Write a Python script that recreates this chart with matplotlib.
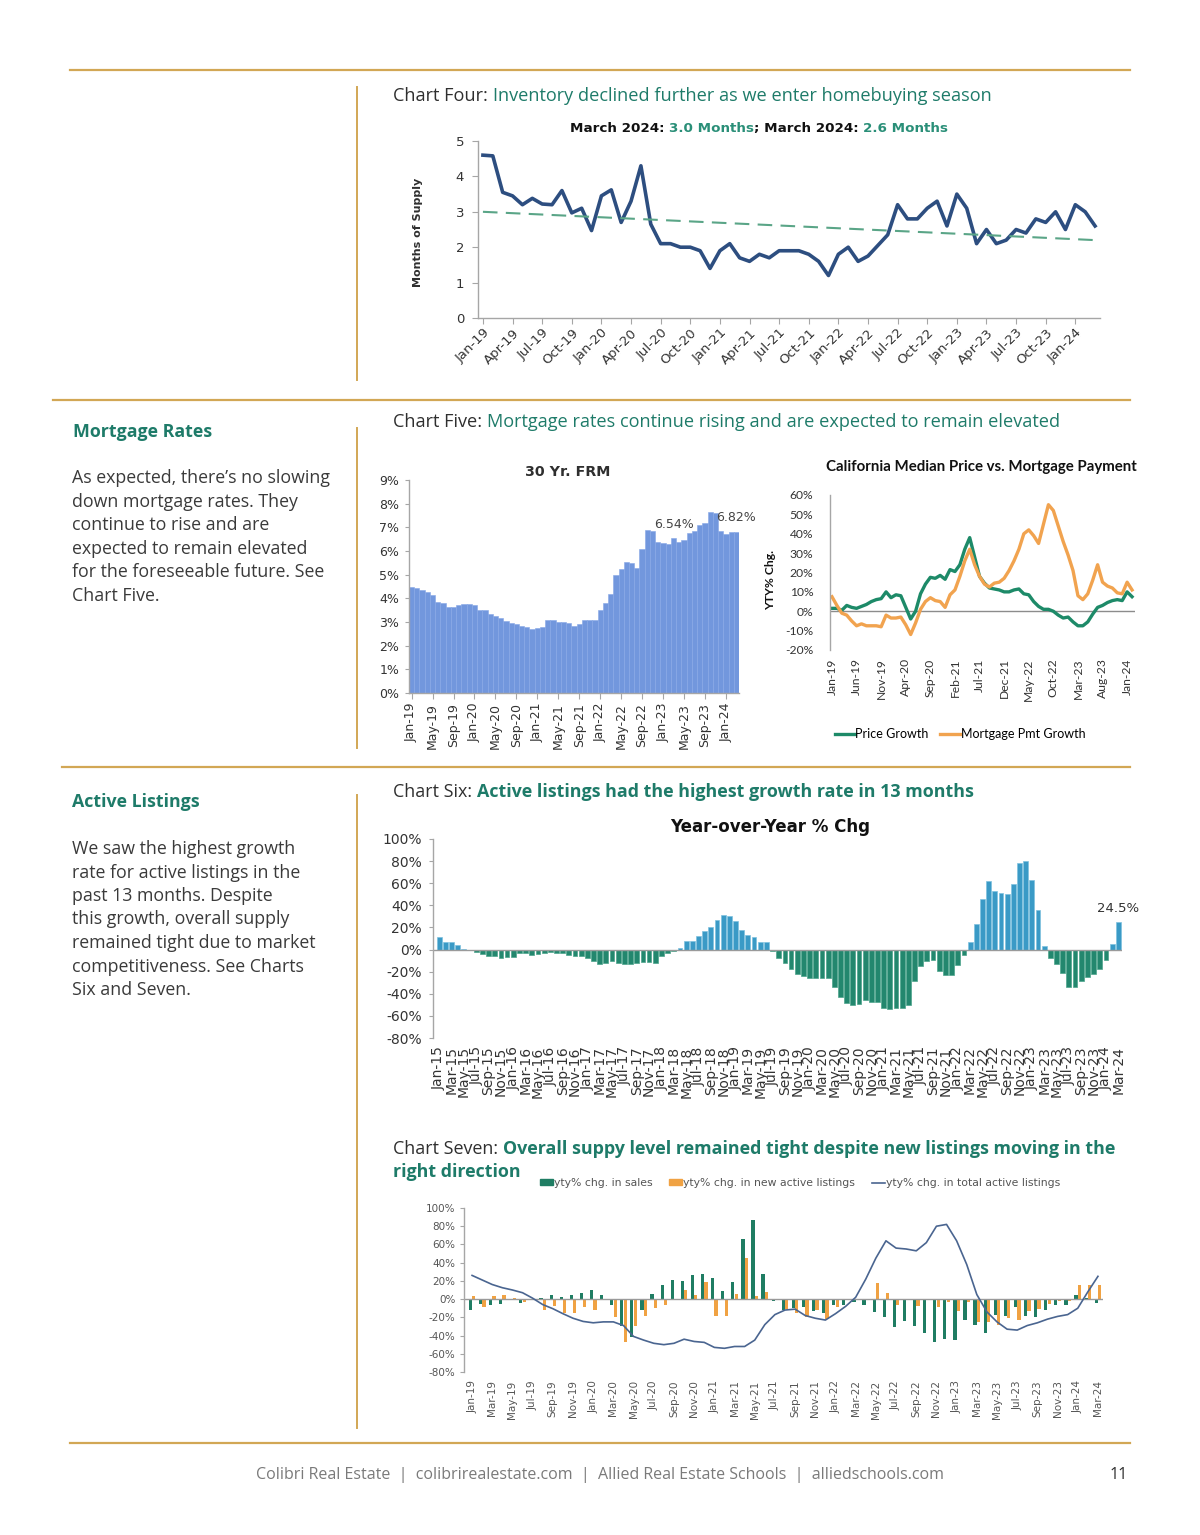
import numpy as np
import pandas as pd
import matplotlib
matplotlib.use('Agg')
import matplotlib.pyplot as plt
from matplotlib.lines import Line2D
from matplotlib.patches import Patch

W, H = 1200, 1535

# ---------------- data ----------------
months_19_24 = pd.date_range('2019-01-01', '2024-03-01', freq='MS').strftime('%b-%y').tolist()
months_15_24 = pd.date_range('2015-01-01', '2024-03-01', freq='MS').strftime('%b-%y').tolist()

# Chart Four: months of supply (Jan-19 .. Mar-24)
supply = [4.6, 4.58, 3.55, 3.45, 3.2, 3.38, 3.22, 3.2, 3.6, 2.97, 3.1, 2.47,
          3.45, 3.62, 2.7, 3.3, 4.3, 2.65, 2.1, 2.1, 2.0, 2.0, 1.9, 1.4,
          1.9, 2.1, 1.7, 1.6, 1.8, 1.7, 1.9, 1.9, 1.9, 1.8, 1.6, 1.2,
          1.8, 2.0, 1.6, 1.75, 2.05, 2.35, 3.2, 2.8, 2.8, 3.1, 3.3, 2.6,
          3.5, 3.1, 2.1, 2.5, 2.1, 2.2, 2.5, 2.4, 2.8, 2.7, 3.0, 2.5,
          3.2, 3.0, 2.6]
supply_trend = [3.0, 2.2]

# Chart Five (left): 30 Yr FRM (Jan-19 .. Mar-24)
frm = [4.5, 4.45, 4.35, 4.25, 4.15, 3.85, 3.8, 3.65, 3.65, 3.7, 3.75, 3.75,
       3.7, 3.5, 3.5, 3.35, 3.25, 3.15, 3.05, 2.95, 2.9, 2.85, 2.8, 2.7,
       2.75, 2.8, 3.1, 3.1, 3.0, 3.0, 2.95, 2.85, 2.9, 3.1, 3.1, 3.1,
       3.5, 3.8, 4.2, 5.0, 5.25, 5.55, 5.5, 5.3, 6.1, 6.9, 6.85, 6.4,
       6.35, 6.3, 6.54, 6.4, 6.45, 6.75, 6.85, 7.1, 7.2, 7.65, 7.6, 6.85,
       6.7, 6.8, 6.82]
frm_labelled = [50, 62]

# Chart Five (right): price vs mortgage payment growth (Jan-19 .. Feb-24)
price_growth = [1.5, 1.5, 0.5, 3, 2, 1.5, 2.5, 3.5, 5, 6,
                6.5, 10, 7, 8.5, 8, 2, -4, 0, 9, 14,
                17.5, 17, 18.5, 16.5, 21.5, 20.5, 24, 32, 38, 28,
                18, 14.5, 12, 11.5, 11, 10, 10, 11, 11.5, 9,
                8.5, 5, 2.5, 1, 1, 0, -2, -3.5, -3, -5.5,
                -7.5, -7.5, -5.5, -1.5, 2, 3, 4.5, 5.5, 6, 5.5,
                10, 7.5]
mortgage_growth = [7.5, 3, -1, -2, -5, -7.5, -6.5, -7.5, -7.5, -7.5,
                   -8, -2, -3.5, -3.5, -3, -7, -12, -6, 1, 5,
                   7, 5.5, 5, 2, 8.5, 11, 18, 26, 32, 24,
                   18, 14, 12.5, 14.5, 15, 17, 21, 26, 32, 40,
                   42, 39, 35, 45, 55, 52, 44, 36, 29, 21,
                   8, 6, 9, 16, 24, 15, 13, 12, 9.5, 9,
                   15, 11]

# Chart Six: active listings YoY % (Jan-15 .. Mar-24)
active_yoy = [11, 7, 6.5, 4, 0.5, 0, -2, -4, -5.5, -5.5, -7.5, -7,
              -6.5, -3.5, -3, -4.5, -4, -3, -2, -3.5, -3.5, -4.5, -5.5, -5.5,
              -7.5, -10, -13.5, -12, -10, -12, -13, -13, -12, -11.5, -11.5, -12,
              -6, -3, -1, 1, 8, 8, 12, 17, 20, 27, 31, 30.5,
              26, 18, 13, 11, 7, 7, -1, -8, -12, -18, -22, -24,
              -26, -26, -26, -26, -34, -43, -48, -50, -49, -46, -47, -47,
              -53, -54, -53, -53, -50, -28, -15, -10, -9, -19, -23, -23,
              -14, -5, 7, 23, 46, 62, 53, 51, 50, 59, 78, 80,
              63, 36, 3, -8, -13, -21, -34, -34, -28, -25, -22, -18,
              -9, 5, 24.5]

# Chart Seven (Jan-19 .. Mar-24)
sales_yoy = [-12, -5, -6, -5, 0, -4, 0, 1, 5, 2, 5, 7, 10, 5, -6, -29, -42, -12, 6, 15,
             21, 20, 26, 28, 23, 9, 19, 66, 87, 28, -2,
             -12, -10, -9, -13, -15, -7, -6, -3, -6, -14, -20, -31, -24, -30, -37, -47,
             -44, -45, -23, -28, -37, -17, -19, -9, -19, -20, -12, -6, -6, 5, 1, -4]
new_listings_yoy = [3, -9, 3, 4, 1, -3, 0, -12, -8, -15, -15, -9, -12, 0, -20, -47, -30, -19, -10, -7,
                    0, 10, 4, 19, -19, -18, 6, 45, 3, 8, 0,
                    -11, -15, -20, -12, -22, -9, 0, 0, 0, 18, 7, -7, 0, -8, 0, -9,
                    -3, -13, -3, -25, -25, -28, -21, -23, -13, -11, -5, -2, -2, 15, 16, 15]
total_active_yoy = [26, 21, 16, 12.5, 10, 7, 1, -6, -10.5, -16, -21, -24.5, -26, -25, -25, -29,
                    -41, -45, -48.5, -50, -48.5, -44, -46.5, -47.5, -53, -54, -52, -52, -45, -28, -17,
                    -12, -11, -18, -21, -23, -16, -8, 2, 22, 45, 64, 56, 55, 53, 62, 80,
                    82, 64, 38, 5, -14, -25, -33, -34, -29, -26, -22, -19, -17, -10, 8, 25]

# ---------------- style ----------------
GOLD = '#d2a755'
TEAL = '#1e7b69'
DARK = '#2f2f2f'
BODY = '#3a3a3a'

fig = plt.figure(figsize=(W / 100, H / 100), dpi=100)
fig.patch.set_facecolor('white')


def ax_rect(left, top, right, bottom):
    return fig.add_axes([left / W, 1 - bottom / H, (right - left) / W, (bottom - top) / H])


def hline(x1, x2, y, lw=1.6):
    fig.add_artist(Line2D([x1 / W, x2 / W], [1 - y / H, 1 - y / H], color=GOLD, lw=lw,
                          transform=fig.transFigure))


def vline(x, y1, y2, lw=1.4):
    fig.add_artist(Line2D([x / W, x / W], [1 - y1 / H, 1 - y2 / H], color=GOLD, lw=lw,
                          transform=fig.transFigure))


renderer = fig.canvas.get_renderer()


def text_width(s, **kw):
    t = fig.text(0, 0, s + '|', **kw)
    t2 = fig.text(0, 0, '|', **kw)
    w = t.get_window_extent(renderer).width - t2.get_window_extent(renderer).width
    t.remove()
    t2.remove()
    return w


def rich(x, y, parts, size, family='Open Sans', ha='left'):
    widths = [text_width(s, fontsize=size, fontweight=wt, family=family) for s, c, wt in parts]
    if ha == 'center':
        x -= sum(widths) / 2
    for (s, c, wt), w in zip(parts, widths):
        fig.text(x / W, 1 - y / H, s, fontsize=size, fontweight=wt, family=family,
                 color=c, va='baseline', ha='left')
        x += w


def ftext(x, y, s, **kw):
    return fig.text(x / W, 1 - y / H, s, **kw)


# ---------------- page furniture ----------------
hline(70, 1130, 70)
hline(53, 1130, 400)
hline(62, 1130, 767)
hline(70, 1130, 1443)
vline(357, 87, 380)
vline(357, 428, 748)
vline(357, 795, 1428)

TS = 13.1
TSB = 12.9
rich(393, 101, [('Chart Four: ', DARK, 'normal'),
                ('Inventory declined further as we enter homebuying season', TEAL, 'normal')], TS)
rich(393, 427, [('Chart Five: ', DARK, 'normal'),
                ('Mortgage rates continue rising and are expected to remain elevated', TEAL, 'normal')], TS)
rich(393, 797, [('Chart Six: ', DARK, 'normal'),
                ('Active listings had the highest growth rate in 13 months', TEAL, 'bold')], TSB)
rich(393, 1154, [('Chart Seven: ', DARK, 'normal'),
                 ('Overall suppy level remained tight despite new listings moving in the', TEAL, 'bold')], TSB)
rich(393, 1177, [('right direction', TEAL, 'bold')], TSB)

ftext(73, 437, 'Mortgage Rates', fontsize=12.8, fontweight='bold', family='Open Sans', color=TEAL, va='baseline')
para1 = ["As expected, there\u2019s no slowing", "down mortgage rates. They", "continue to rise and are",
         "expected to remain elevated", "for the foreseeable future. See", "Chart Five."]
for i, line in enumerate(para1):
    ftext(72, 483 + i * 23.6, line, fontsize=12.8, family='Open Sans', color=BODY, va='baseline')

ftext(72, 807, 'Active Listings', fontsize=12.8, fontweight='bold', family='Open Sans', color=TEAL, va='baseline')
para2 = ["We saw the highest growth", "rate for active listings in the", "past 13 months. Despite",
         "this growth, overall supply", "remained tight due to market", "competitiveness. See Charts",
         "Six and Seven."]
for i, line in enumerate(para2):
    ftext(72, 854 + i * 23.5, line, fontsize=12.8, family='Open Sans', color=BODY, va='baseline')

ftext(600, 1479, 'Colibri Real Estate  |  colibrirealestate.com  |  Allied Real Estate Schools  |  alliedschools.com',
      fontsize=11.5, family='Open Sans', color='#7a7a7a', ha='center', va='baseline')
ftext(1119, 1479, '11', fontsize=11.5, family='Open Sans', color=DARK, ha='center', va='baseline')

AXC = '#a6a6a6'


def base_axes(ax, left=True, bottom=True):
    for s in ['top', 'right']:
        ax.spines[s].set_visible(False)
    ax.spines['left'].set_visible(left)
    ax.spines['bottom'].set_visible(bottom)
    for s in ['left', 'bottom']:
        ax.spines[s].set_color(AXC)
        ax.spines[s].set_linewidth(1.0)
    ax.tick_params(colors=AXC, labelcolor='#333333')
    ax.set_facecolor('none')


# ---------------- Chart Four ----------------
ax4 = ax_rect(478, 141, 1100, 318)
base_axes(ax4)
x4 = np.arange(len(supply))
ax4.plot(x4, supply, color='#2d4e80', lw=2.6, solid_joinstyle='round')
ax4.plot([x4[0], x4[-1]], supply_trend, color='#5aa587', lw=1.5, dashes=(7, 4))
ax4.set_xlim(-0.5, 62.5)
ax4.set_ylim(0, 5)
ax4.set_yticks(range(0, 6))
ax4.tick_params(axis='y', labelsize=9.5, length=4, pad=6)
ax4.set_xticks(x4[::3])
ax4.set_xticklabels(months_19_24[::3], rotation=45, ha='right', rotation_mode='anchor', fontsize=9.5)
ax4.tick_params(axis='x', length=4, pad=2)
for lab in ax4.get_xticklabels() + ax4.get_yticklabels():
    lab.set_family('DejaVu Sans')
ftext(418, 232, 'Months of Supply', rotation=90, fontsize=8, fontweight='bold', family='DejaVu Sans',
      color=DARK, ha='center', va='center')
rich(759, 132, [('March 2024: ', '#111111', 'bold'), ('3.0 Months', '#2a8f78', 'bold'),
                ('; March 2024: ', '#111111', 'bold'), ('2.6 Months', '#2a8f78', 'bold')],
     9.7, family='DejaVu Sans', ha='center')

# ---------------- Chart Five left ----------------
ax5 = ax_rect(409, 480, 739, 693)
base_axes(ax5)
x5 = np.arange(len(frm))
ax5.bar(x5, frm, width=1.0, color='#7297dd', edgecolor='#86a7e6', linewidth=0.4)
ax5.set_xlim(-0.5, 62.5)
ax5.set_ylim(0, 9)
ax5.set_yticks(range(0, 10))
ax5.set_yticklabels([f'{v}%' for v in range(0, 10)])
ax5.tick_params(axis='y', labelsize=9, length=3, pad=4)
ax5.set_xticks(x5[::4])
ax5.set_xticklabels(months_19_24[::4], rotation=90, fontsize=9)
ax5.tick_params(axis='x', length=4, pad=3)
for i in frm_labelled:
    ax5.text(i, frm[i] + 0.3, f'{frm[i]:.2f}%', ha='center', va='bottom', fontsize=9, color='#444444',
             family='DejaVu Sans')
ftext(568, 476, '30 Yr. FRM', fontsize=10.3, fontweight='bold', family='DejaVu Sans', color=DARK,
      ha='center', va='baseline')

# ---------------- Chart Five right ----------------
axr = ax_rect(830, 495, 1135, 650)
base_axes(axr, bottom=False)
xr = np.arange(len(price_growth))
GREEN5 = '#1d8a68'
ORANGE5 = '#f1a34f'
axr.axhline(0, color='#8c8c8c', lw=1.0)
l1, = axr.plot(xr, price_growth, color=GREEN5, lw=2.4, label='Price Growth')
l2, = axr.plot(xr, mortgage_growth, color=ORANGE5, lw=2.4, label='Mortgage Pmt Growth')
axr.set_xlim(-0.4, 61.6)
axr.set_ylim(-20, 60)
axr.set_yticks(range(-20, 61, 10))
axr.set_yticklabels([f'{v}%' for v in range(-20, 61, 10)])
axr.tick_params(axis='y', labelsize=8.7, length=0, pad=12)
axr.set_xticks(xr[::5])
axr.set_xticklabels(months_19_24[:62:5], rotation=90, fontsize=8.7)
axr.tick_params(axis='x', length=0, pad=6)
for lab in axr.get_xticklabels() + axr.get_yticklabels():
    lab.set_family('Lato')
ftext(771, 580, 'YTY% Chg.', rotation=90, fontsize=8.7, fontweight='bold', family='Lato',
      color='#111111', ha='center', va='center')
ftext(981, 471, 'California Median Price vs. Mortgage Payment', fontsize=10.8, fontweight='bold',
      family='Lato', color='#111111', ha='center', va='baseline')
axr.legend(handles=[l1, l2], loc='center', bbox_to_anchor=(960 / W, 1 - 734 / H),
           bbox_transform=fig.transFigure, ncol=2, frameon=False,
           handlelength=1.6, handletextpad=0.05, columnspacing=0.9, prop={'family': 'Lato', 'size': 9})

# ---------------- Chart Six ----------------
ax6 = ax_rect(433, 839, 1122, 1038)
base_axes(ax6, bottom=False)
x6 = np.arange(len(active_yoy))
cols6 = ['#3a9ac6' if v >= 0 else '#23876e' for v in active_yoy]
edges6 = ['#7fc1df' if v >= 0 else '#4da58c' for v in active_yoy]
ax6.bar(x6, active_yoy, width=0.78, color=cols6, edgecolor=edges6, linewidth=0.5)
ax6.axhline(0, color='#9a9a9a', lw=1.0)
ax6.set_xlim(-1, 110.6)
ax6.set_ylim(-80, 100)
ax6.set_yticks(range(-80, 101, 20))
ax6.set_yticklabels([f'{v}%' for v in range(-80, 101, 20)])
ax6.tick_params(axis='y', labelsize=10, length=3, pad=5)
ax6.set_xticks(x6[::2])
ax6.set_xticklabels(months_15_24[::2], rotation=90, fontsize=10)
ax6.tick_params(axis='x', length=0, pad=6)
ax6.text(x6[-1], active_yoy[-1] + 7, f'{active_yoy[-1]}%', ha='center', va='bottom', fontsize=9.5,
         color='#333333')
ftext(770, 832, 'Year-over-Year % Chg', fontsize=12, fontweight='bold', family='DejaVu Sans',
      color='#111111', ha='center', va='baseline')

# ---------------- Chart Seven ----------------
ax7 = ax_rect(464, 1208, 1103, 1372)
base_axes(ax7, bottom=False)
x7 = np.arange(len(sales_yoy))
G7 = '#1f7d63'
O7 = '#f0a243'
L7 = '#4a6590'
ax7.bar(x7 - 0.17, sales_yoy, width=0.32, color=G7)
ax7.bar(x7 + 0.17, new_listings_yoy, width=0.32, color=O7)
ax7.axhline(0, color='#9a9a9a', lw=1.0)
ax7.plot(x7, total_active_yoy, color=L7, lw=1.2)
ax7.set_xlim(-0.8, 62.5)
ax7.set_ylim(-80, 100)
ax7.set_yticks(range(-80, 101, 20))
ax7.set_yticklabels([f'{v}%' for v in range(-80, 101, 20)])
ax7.tick_params(axis='y', labelsize=7.5, length=3, pad=3, labelcolor='#555555')
ax7.set_xticks(x7[::2])
ax7.set_xticklabels(months_19_24[::2], rotation=90, fontsize=7.5, color='#555555')
ax7.tick_params(axis='x', length=0, pad=6)
h7 = [Patch(color=G7, label='yty% chg. in sales'),
      Patch(color=O7, label='yty% chg. in new active listings'),
      Line2D([], [], color=L7, lw=1.2, label='yty% chg. in total active listings')]
ax7.legend(handles=h7, loc='center', bbox_to_anchor=(800 / W, 1 - 1183 / H),
           bbox_transform=fig.transFigure, ncol=3, frameon=False, fontsize=7.8,
           handlelength=1.2, handleheight=0.45, handletextpad=0.05, columnspacing=1.6,
           labelcolor='#555555')

fig.savefig('out.png', dpi=100, facecolor='white')
